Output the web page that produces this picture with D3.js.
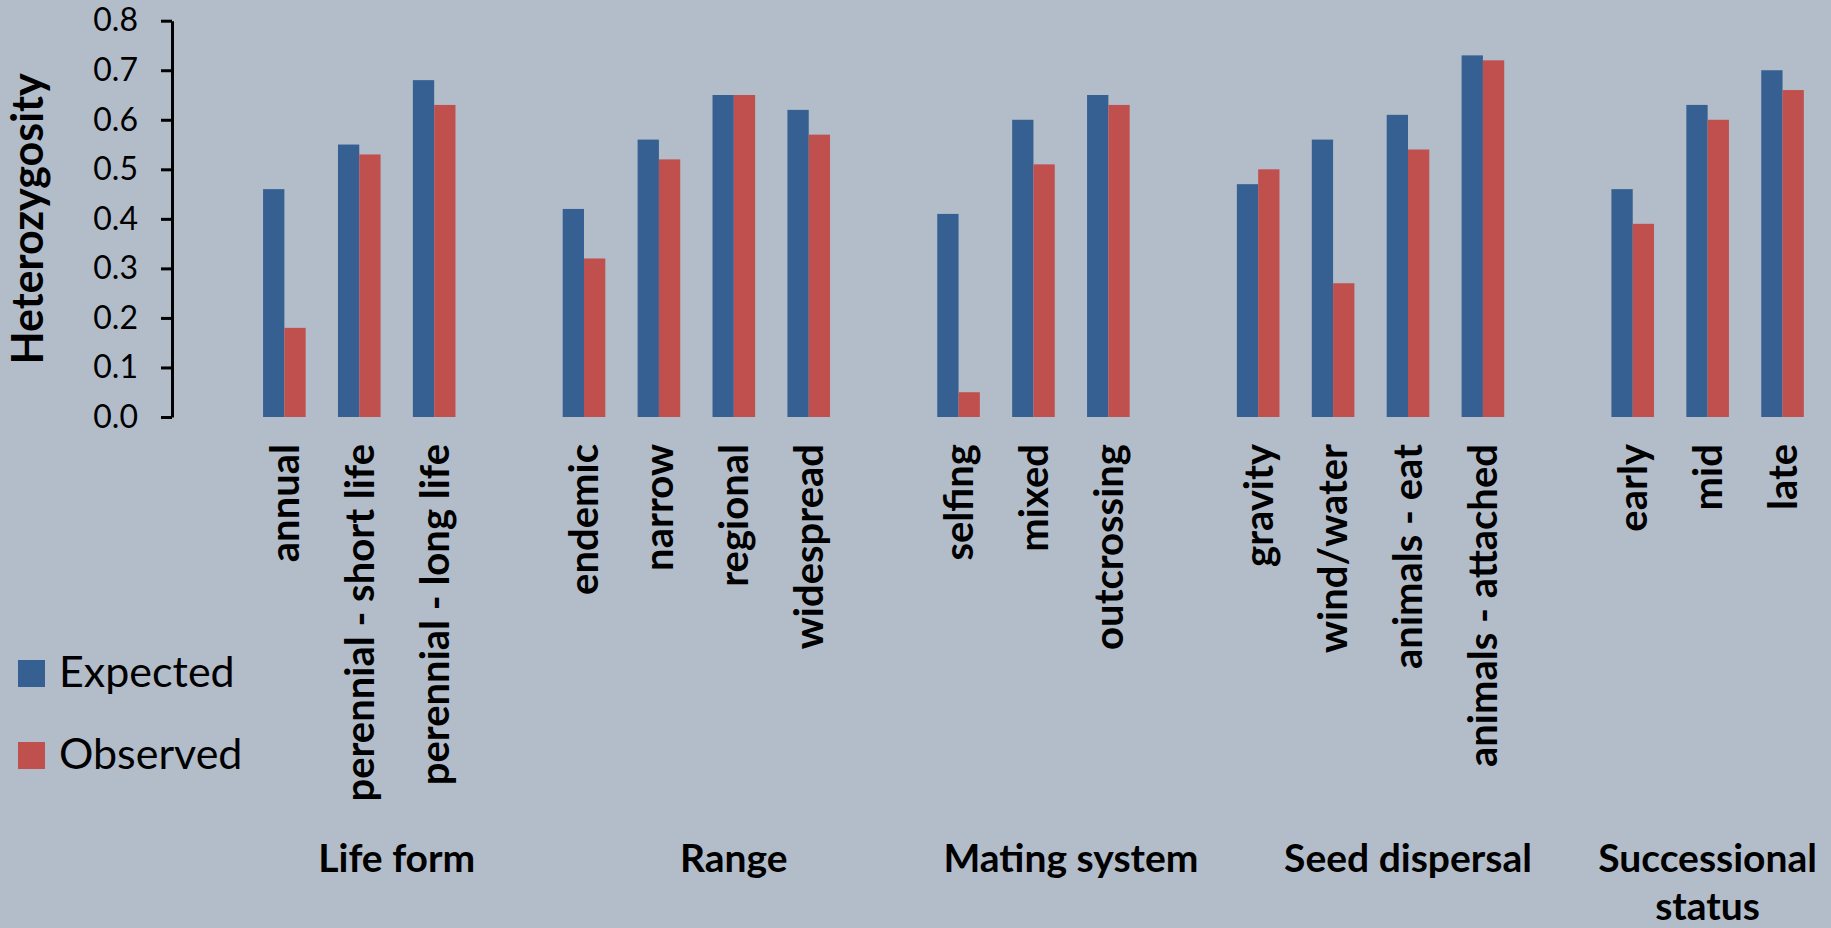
<!DOCTYPE html>
<html>
<head>
<meta charset="utf-8">
<script src="https://cdn.jsdelivr.net/npm/d3@7"></script>
<style>
  html, body { margin: 0; padding: 0; background: #b3bdca; }
  svg { display: block; font-family: Lato, "Open Sans", sans-serif; }
</style>
</head>
<body>
<svg id="chart" width="1831" height="928"></svg>
<script>
// Trait groups and their categories
const groups = ["Life form", "Range", "Mating system", "Seed dispersal", "Successional status"];
const categories = [
  "annual", "perennial - short life", "perennial - long life",
  "endemic", "narrow", "regional", "widespread",
  "selfing", "mixed", "outcrossing",
  "gravity", "wind/water", "animals - eat", "animals - attached",
  "early", "mid", "late"
];
const categoryGroup = [0, 0, 0, 1, 1, 1, 1, 2, 2, 2, 3, 3, 3, 3, 4, 4, 4];

// Mean heterozygosity per category
const expected = [0.46, 0.55, 0.68, 0.42, 0.56, 0.65, 0.62, 0.41, 0.60, 0.65, 0.47, 0.56, 0.61, 0.73, 0.46, 0.63, 0.70];
const observed = [0.18, 0.53, 0.63, 0.32, 0.52, 0.65, 0.57, 0.05, 0.51, 0.63, 0.50, 0.27, 0.54, 0.72, 0.39, 0.60, 0.66];

const seriesNames = ["Expected", "Observed"];
const seriesColors = ["#366092", "#c0504d"];
const yTicks = [0, 0.1, 0.2, 0.3, 0.4, 0.5, 0.6, 0.7, 0.8];
const yTitle = "Heterozygosity";

const W = 1831, H = 928;
const svg = d3.select("#chart");

// Slots along the category axis: a blank spacer before each group
const slots = [];
groups.forEach((g, gi) => {
  slots.push("spacer-" + gi);
  categories.forEach((c, ci) => { if (categoryGroup[ci] === gi) slots.push(c); });
});

const plot = { left: 172, right: 1820, top: 20.7, bottom: 417 };

const x = d3.scaleBand().domain(slots).range([plot.left, plot.right]).paddingInner(0).paddingOuter(0);
const xs = d3.scaleBand().domain(seriesNames).range([0, x.bandwidth()]).paddingInner(0).paddingOuter(0.758);
const y = d3.scaleLinear().domain([0, 0.8]).range([plot.bottom, plot.top]);
const color = d3.scaleOrdinal().domain(seriesNames).range(seriesColors);

const rows = categories.map((c, i) => ({ category: c, values: [
  { series: "Expected", value: expected[i] },
  { series: "Observed", value: observed[i] }
]}));

// Bars
const cat = svg.append("g").selectAll("g").data(rows).join("g")
  .attr("transform", d => `translate(${x(d.category)},0)`);
cat.selectAll("rect").data(d => d.values).join("rect")
  .attr("x", d => xs(d.series))
  .attr("width", xs.bandwidth())
  .attr("y", d => y(d.value))
  .attr("height", d => y(0) - y(d.value))
  .attr("fill", d => color(d.series));

// Y axis
const yAxis = d3.axisLeft(y).tickValues(yTicks).tickFormat(d3.format(".1f"))
  .tickSize(11).tickSizeOuter(0).tickPadding(23);
const ga = svg.append("g").attr("transform", `translate(${plot.left},0)`).call(yAxis);
ga.select(".domain").attr("stroke", "#000").attr("stroke-width", 3);
ga.selectAll(".tick line").attr("stroke", "#000").attr("stroke-width", 3);
ga.selectAll(".tick text").attr("fill", "#000").style("font-size", "32px")
  .style("font-family", "Lato, sans-serif");

// Y axis title
svg.append("text")
  .attr("transform", `translate(28,${(plot.top + plot.bottom) / 2}) rotate(-90)`)
  .attr("text-anchor", "middle").attr("dy", "0.35em")
  .style("font-size", "43px").style("font-weight", "bold")
  .text(yTitle);

// Category labels (rotated)
svg.append("g").selectAll("text").data(categories).join("text")
  .attr("transform", d => `translate(${x(d) + x.bandwidth() / 2},444) rotate(-90)`)
  .attr("text-anchor", "end").attr("dy", "0.36em")
  .style("font-size", "40px").style("font-weight", "bold")
  .text(d => d);

// Group labels, centred on each group plus its trailing spacer, kept inside the frame
const gl = svg.append("g");
groups.forEach((g, gi) => {
  const members = categories.filter((c, ci) => categoryGroup[ci] === gi);
  const x0 = x(members[0]);
  let cx = x0 + (members.length + 1) * x.step() / 2;
  const words = gi === groups.length - 1 ? ["Successional", "status"] : [g];
  const t = gl.append("text").attr("text-anchor", "middle")
    .style("font-size", "39px").style("font-weight", "bold");
  words.forEach((w, wi) => t.append("tspan").attr("x", 0).attr("y", 872 + wi * 48).text(w));
  const bw = t.node().getBBox().width;
  cx = Math.min(cx, W - 14 - bw / 2);
  t.attr("transform", `translate(${cx},0)`);
});

// Legend
const lg = svg.append("g").selectAll("g").data(seriesNames).join("g")
  .attr("transform", (d, i) => `translate(18,${660 + i * 82})`);
lg.append("rect").attr("width", 27).attr("height", 27).attr("fill", d => color(d));
lg.append("text").attr("x", 41).attr("y", 27).style("font-size", "43px").text(d => d);
</script>
</body>
</html>
